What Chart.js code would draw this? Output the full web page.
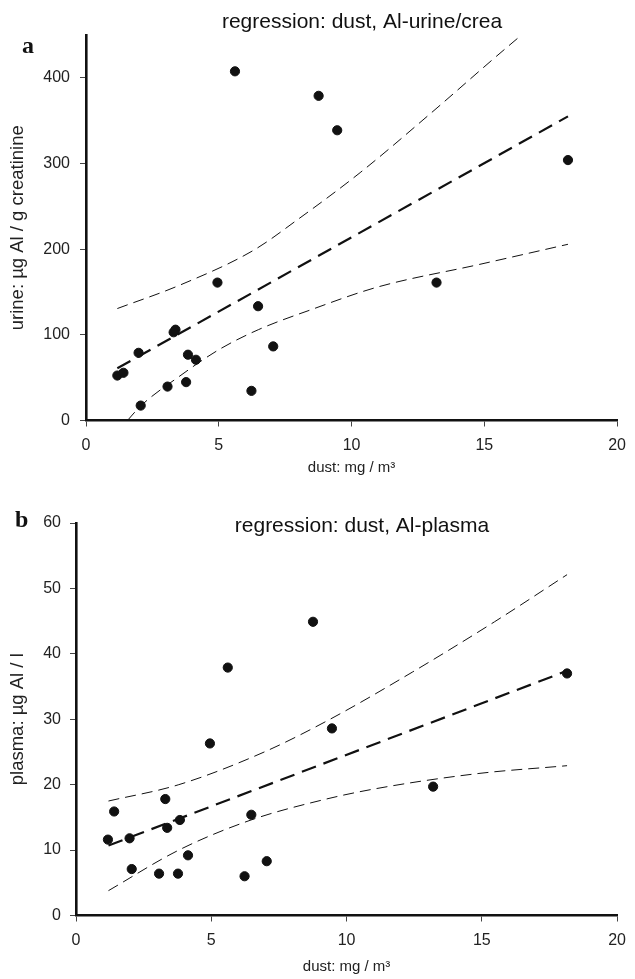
<!DOCTYPE html>
<html>
<head>
<meta charset="utf-8">
<script src="https://cdn.jsdelivr.net/npm/chart.js@4/dist/chart.umd.min.js"></script>
<style>
  body { margin: 0; background: #fff; }
  .panel { position: absolute; left: 0; width: 635px; }
</style>
</head>
<body>
<div class="panel" style="top:0;height:490px"><canvas id="urineChart" width="635" height="490"></canvas></div>
<div class="panel" style="top:490px;height:489px"><canvas id="plasmaChart" width="635" height="489"></canvas></div>
<script>
// measured values (dust mg/m3 per worker)
const dust = [1.18, 1.41, 1.98, 2.06, 3.07, 3.3, 3.37, 3.77, 3.84, 4.14, 4.95, 5.61, 6.23, 6.48, 7.05, 8.76, 9.46, 13.2, 18.15];
const urineAl = [52.5, 55.7, 79, 17.4, 39.6, 103, 106, 44.8, 76.8, 70.9, 161, 407.6, 34.6, 133.4, 86.5, 379, 338.8, 161, 304];
const plasmaAl = [11.6, 15.9, 11.8, 7.1, 6.4, 17.8, 13.4, 6.4, 14.6, 9.2, 26.3, 37.9, 6.0, 15.4, 8.3, 44.9, 28.6, 19.7, 37.0];

// regression line and confidence band
const urineFitX = [1.18, 18.15];
const urineFit = [61, 355];
const urineUpperX = [1.18, 3.51, 6.31, 7.99, 10.35, 12.96, 15.45, 16.4];
const urineUpper = [130.7, 157.7, 198.7, 235, 290, 358, 425, 450];
const urineLowerX = [1.56, 2.06, 3.51, 5.0, 6.49, 8.49, 10.97, 14.83, 18.15];
const urineLower = [0, 17, 51.4, 82.6, 106, 129.5, 155.7, 182.3, 205.7];

const plasmaFitX = [1.2, 18.15];
const plasmaFit = [10.7, 37.4];
const plasmaUpperX = [1.2, 3.8, 6.96, 9.39, 12.43, 15.47, 18.15];
const plasmaUpper = [17.5, 20.0, 25.0, 30.0, 37.2, 44.9, 52.1];
const plasmaLowerX = [1.2, 3.8, 6.47, 9.15, 11.1, 14.86, 18.15];
const plasmaLower = [3.8, 10.0, 14.6, 17.7, 19.4, 21.7, 22.9];

// tick labels
const xTicks = [0, 5, 10, 15, 20];
const urineTicks = [0, 100, 200, 300, 400];
const plasmaTicks = [0, 10, 20, 30, 40, 50, 60];

const pts = (xs, ys) => xs.map((x, i) => ({ x: x, y: ys[i] }));

// panel letter + centred title drawn on the canvas
const panelText = {
  id: 'panelText',
  afterDraw(chart, args, opts) {
    const ctx = chart.ctx;
    ctx.save();
    ctx.fillStyle = '#111';
    ctx.textBaseline = 'alphabetic';
    ctx.font = 'bold 24px "Liberation Serif"';
    ctx.textAlign = 'left';
    ctx.fillText(opts.letter, opts.letterX, opts.letterY);
    ctx.font = '21px "Liberation Sans"';
    ctx.textAlign = 'center';
    ctx.fillText(opts.title, opts.titleX, opts.titleY);
    ctx.restore();
  }
};

function makeChart(id, cfg) {
  const ctx = document.getElementById(id).getContext('2d');
  return new Chart(ctx, {
    type: 'scatter',
    data: {
      datasets: [
        {
          data: pts(dust, cfg.values),
          backgroundColor: '#111',
          borderColor: '#111',
          pointRadius: 4.6,
          pointHoverRadius: 4.6
        },
        {
          data: pts(cfg.fitX, cfg.fit),
          showLine: true,
          borderColor: '#111',
          borderWidth: 2.2,
          borderDash: [15, 8],
          pointRadius: 0
        },
        {
          data: pts(cfg.upperX, cfg.upper),
          showLine: true,
          borderColor: '#111',
          borderWidth: 1,
          borderDash: [11, 6],
          cubicInterpolationMode: 'monotone',
          pointRadius: 0
        },
        {
          data: pts(cfg.lowerX, cfg.lower),
          showLine: true,
          borderColor: '#111',
          borderWidth: 1,
          borderDash: [11, 6],
          cubicInterpolationMode: 'monotone',
          pointRadius: 0
        }
      ]
    },
    options: {
      responsive: false,
      animation: false,
      layout: { padding: { top: cfg.padTop, right: cfg.padRight, left: 0, bottom: 0 } },
      scales: {
        x: {
          type: 'linear',
          min: 0,
          max: 20,
          afterBuildTicks: s => { s.ticks = xTicks.map(v => ({ value: v })); },
          afterFit: s => { s.height = cfg.xHeight; },
          grid: { display: true, drawOnChartArea: false, tickLength: 6, color: '#444', lineWidth: 1 },
          border: { display: true, color: '#111', width: 2.6 },
          ticks: { color: '#222', font: { family: 'Liberation Sans', size: 16 }, padding: 9, maxRotation: 0 },
          title: {
            display: true,
            text: 'dust: mg / m³',
            color: '#222',
            font: { family: 'Liberation Sans', size: 15 },
            padding: { top: 0, bottom: cfg.xTitlePad }
          }
        },
        y: {
          min: 0,
          max: cfg.yMax,
          afterBuildTicks: s => { s.ticks = cfg.yTicks.map(v => ({ value: v })); },
          afterFit: s => { s.width = cfg.yWidth; },
          grid: { display: true, drawOnChartArea: false, tickLength: 6, color: '#444', lineWidth: 1 },
          border: { display: true, color: '#111', width: 2.6 },
          ticks: { color: '#222', font: { family: 'Liberation Sans', size: 16 }, padding: cfg.yTickPad },
          title: {
            display: true,
            text: cfg.yTitle,
            color: '#222',
            font: { family: 'Liberation Sans', size: 18.5 },
            padding: { top: 7, bottom: 0 }
          }
        }
      },
      plugins: {
        legend: { display: false },
        tooltip: { enabled: false },
        panelText: cfg.panel
      }
    },
    plugins: [panelText]
  });
}

// a: urine
makeChart('urineChart', {
  values: urineAl,
  fitX: urineFitX, fit: urineFit,
  upperX: urineUpperX, upper: urineUpper,
  lowerX: urineLowerX, lower: urineLower,
  yMax: 450, yTicks: urineTicks,
  yTitle: 'urine: µg Al / g creatinine',
  padTop: 35, padRight: 13.3, xHeight: 69.5, yWidth: 86, yTickPad: 10, xTitlePad: 13.4,
  panel: { letter: 'a', letterX: 22, letterY: 53, title: 'regression: dust, Al-urine/crea', titleX: 362, titleY: 28 }
});

// b: plasma
makeChart('plasmaChart', {
  values: plasmaAl,
  fitX: plasmaFitX, fit: plasmaFit,
  upperX: plasmaUpperX, upper: plasmaUpper,
  lowerX: plasmaLowerX, lower: plasmaLower,
  yMax: 60, yTicks: plasmaTicks,
  yTitle: 'plasma: µg Al / l',
  padTop: 33, padRight: 11, xHeight: 63.5, yWidth: 76, yTickPad: 9, xTitlePad: 3.4,
  panel: { letter: 'b', letterX: 15, letterY: 37, title: 'regression: dust, Al-plasma', titleX: 362, titleY: 42 }
});
</script>
</body>
</html>
